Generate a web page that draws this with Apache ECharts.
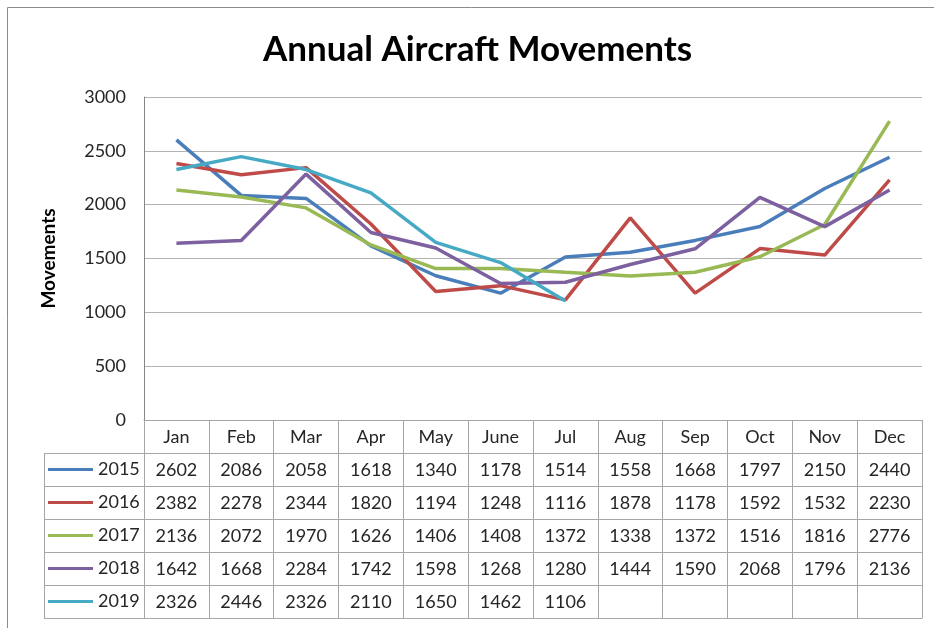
<!DOCTYPE html>
<html>
<head>
<meta charset="utf-8">
<script src="https://cdn.jsdelivr.net/npm/echarts@6/dist/echarts.min.js"></script>
<style>
  html, body { margin: 0; padding: 0; background: #fff; }
  #chart { width: 934px; height: 628px; }
</style>
</head>
<body>
<div id="chart"></div>
<script>
const months = ["Jan", "Feb", "Mar", "Apr", "May", "June", "Jul", "Aug", "Sep", "Oct", "Nov", "Dec"];
const years = ["2015", "2016", "2017", "2018", "2019"];
const y2015 = [2602, 2086, 2058, 1618, 1340, 1178, 1514, 1558, 1668, 1797, 2150, 2440];
const y2016 = [2382, 2278, 2344, 1820, 1194, 1248, 1116, 1878, 1178, 1592, 1532, 2230];
const y2017 = [2136, 2072, 1970, 1626, 1406, 1408, 1372, 1338, 1372, 1516, 1816, 2776];
const y2018 = [1642, 1668, 2284, 1742, 1598, 1268, 1280, 1444, 1590, 2068, 1796, 2136];
const y2019 = [2326, 2446, 2326, 2110, 1650, 1462, 1106, null, null, null, null, null];
const yTicks = [0, 500, 1000, 1500, 2000, 2500, 3000];

const rows = [y2015, y2016, y2017, y2018, y2019];
const colors = ["#4a7ebb", "#be4b48", "#98b954", "#7d60a0", "#46aac5"];

const font = "Lato, 'Open Sans', sans-serif";
const lineGray = "#a6a6a6";
const textColor = "#262626";

// layout
const gridLeft = 144;
const gridRight = 12;
const gridTop = 97;
const gridBottom = 208;
const rowH = 33;
const tableTop = 628 - gridBottom;
const legendLeft = 44;

// one category axis per table row, stacked under the plot
const rowAxes = rows.map((vals, i) => ({
  type: "category",
  gridIndex: 0,
  position: "bottom",
  offset: rowH * (i + 1),
  data: vals.map((v) => (v == null ? "" : String(v))),
  axisLine: { show: true, lineStyle: { color: lineGray, width: 1 } },
  axisTick: { show: true, interval: 0, length: rowH, lineStyle: { color: lineGray } },
  axisLabel: { interval: 0, margin: 8, fontSize: 18, color: textColor, fontFamily: font },
  splitLine: { show: false },
}));

// closing line at the bottom of the table
const closingAxis = {
  type: "category",
  gridIndex: 0,
  position: "bottom",
  offset: rowH * (rows.length + 1),
  data: months,
  axisLine: { show: true, lineStyle: { color: lineGray, width: 1 } },
  axisTick: { show: false },
  axisLabel: { show: false },
};

const legendBorders = [];
for (let i = 1; i <= rows.length + 1; i++) {
  const y = tableTop + rowH * i + 0.5;
  legendBorders.push({
    type: "line",
    shape: { x1: legendLeft, y1: y, x2: gridLeft, y2: y },
    style: { stroke: lineGray, lineWidth: 1 },
  });
}
legendBorders.push({
  type: "line",
  shape: { x1: legendLeft + 0.5, y1: tableTop + rowH, x2: legendLeft + 0.5, y2: tableTop + rowH * (rows.length + 1) },
  style: { stroke: lineGray, lineWidth: 1 },
});

const chart = echarts.init(document.getElementById("chart"));
chart.setOption({
  animation: false,
  color: colors,
  textStyle: { fontFamily: font },
  title: {
    text: "Annual Aircraft Movements",
    left: 258,
    top: 27,
    textStyle: { fontSize: 35, fontWeight: "bold", color: "#000", fontFamily: font },
  },
  legend: {
    orient: "vertical",
    left: 43,
    top: tableTop + rowH - 1.5,
    itemWidth: 45,
    itemHeight: 3,
    itemGap: 7,
    icon: "rect",
    textStyle: { fontSize: 18, color: textColor, lineHeight: 20, padding: [0, 0, 6, 0], fontFamily: font },
    data: years,
  },
  grid: { left: gridLeft, right: gridRight, top: gridTop, bottom: gridBottom, containLabel: false },
  xAxis: [
    {
      type: "category",
      gridIndex: 0,
      position: "bottom",
      data: months,
      axisLine: { show: true, lineStyle: { color: lineGray, width: 1 } },
      axisTick: { show: true, interval: 0, length: rowH, lineStyle: { color: lineGray } },
      axisLabel: { interval: 0, margin: 8, fontSize: 18, color: textColor, fontFamily: font },
      splitLine: { show: false },
    },
    ...rowAxes,
    closingAxis,
  ],
  yAxis: {
    type: "value",
    min: yTicks[0],
    max: yTicks[yTicks.length - 1],
    interval: yTicks[1] - yTicks[0],
    name: "Movements",
    nameLocation: "middle",
    nameGap: 86,
    nameTextStyle: { fontSize: 19, fontWeight: "bold", color: "#000", fontFamily: font },
    axisLine: { show: true, lineStyle: { color: "#868686", width: 1 } },
    axisTick: { show: false },
    axisLabel: { margin: 18, fontSize: 18, color: textColor, fontFamily: font, formatter: (v) => String(v) },
    splitLine: { show: true, lineStyle: { color: "#b3b3b3", width: 1 } },
  },
  graphic: [
    {
      type: "rect",
      shape: { x: 7.5, y: 7.5, width: 940, height: 660 },
      style: { fill: "none", stroke: "#8c8c8c", lineWidth: 1 },
      silent: true,
    },
    ...legendBorders,
  ],
  series: rows.map((vals, i) => ({
    name: years[i],
    type: "line",
    xAxisIndex: 0,
    data: vals,
    symbol: "none",
    lineStyle: { width: 3.5, color: colors[i] },
    itemStyle: { color: colors[i] },
  })),
});

window.addEventListener("resize", () => {
  chart.resize();
});
</script>
</body>
</html>
